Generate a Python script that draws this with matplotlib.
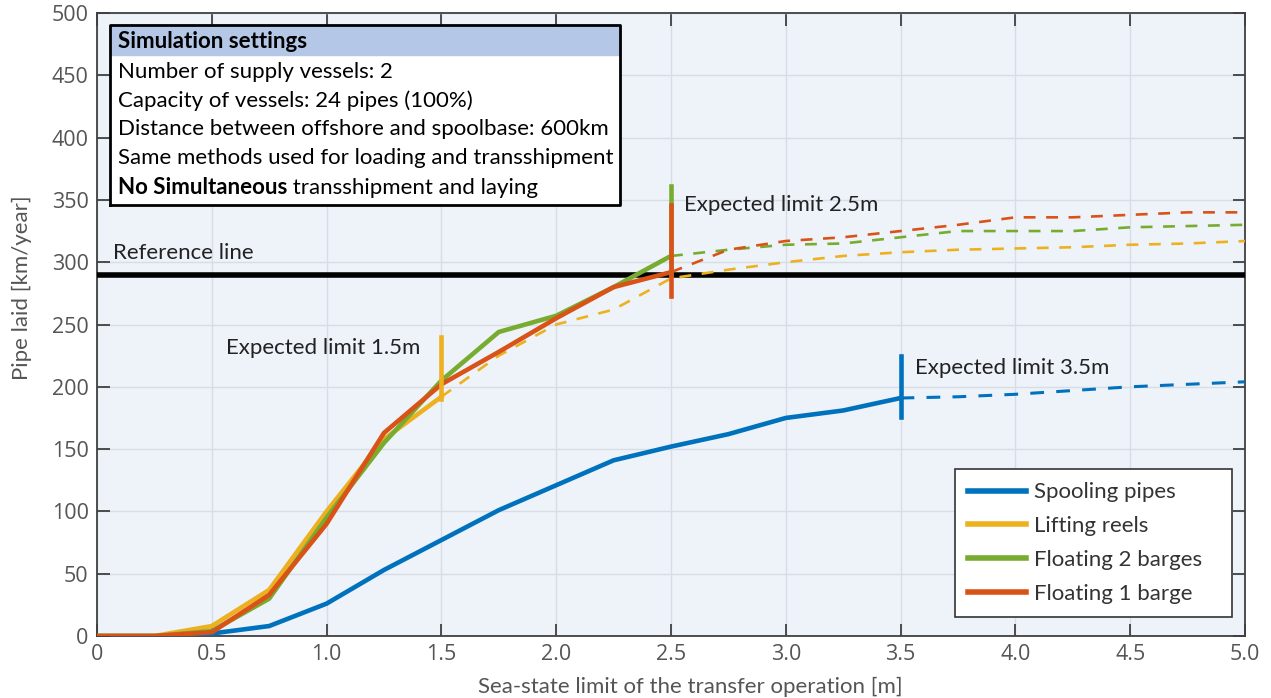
import matplotlib.pyplot as plt
import numpy as np

plt.rcParams['font.family'] = ['Lato', 'DejaVu Sans']

# sea-state limit [m]
x_solid = [0, 0.25, 0.5, 0.75, 1.0, 1.25, 1.5, 1.75, 2.0, 2.25, 2.5, 2.75, 3.0, 3.25, 3.5]
x_dash = [1.5, 1.75, 2.0, 2.25, 2.5, 2.75, 3.0, 3.25, 3.5, 3.75, 4.0, 4.25, 4.5, 4.75, 5.0]

# pipe laid [km/year]
spooling = [0, 0, 2, 8, 26, 53, 77, 101, 121, 141, 152, 162, 175, 181, 191]
spooling_dash = [191, 192, 194, 197, 200, 202, 204]
lifting = [0, 0, 8, 37, 100, 158, 192]
lifting_dash = [192, 225, 250, 262, 287, 294, 300, 305, 308, 310, 311, 312, 314, 315, 317]
float2 = [0, 0, 4, 30, 95, 155, 205, 244, 257, 280, 305]
float2_dash = [305, 310, 314, 315, 320, 325, 325, 325, 328, 329, 330]
float1 = [0, 0, 3, 33, 90, 163, 202, 228, 255, 280, 292]
float1_dash = [292, 310, 317, 320, 325, 330, 336, 336, 338, 340, 340]

reference = 290

blue = '#0072BD'
yellow = '#EDB120'
green = '#77AC30'
red = '#D95319'

fig = plt.figure(figsize=(12.71, 6.98), dpi=100)
ax = fig.add_axes([0.0763, 0.0888, 0.9032, 0.8926])
ax.set_facecolor('#eef3fa')

ax.plot(x_solid, spooling, color=blue, lw=3.3, label='Spooling pipes', zorder=5)
ax.plot(x_solid[:7], lifting, color=yellow, lw=3.3, label='Lifting reels', zorder=5)
ax.plot(x_solid[:11], float2, color=green, lw=3.3, label='Floating 2 barges', zorder=5)
ax.plot(x_solid[:11], float1, color=red, lw=3.3, label='Floating 1 barge', zorder=5)

dash = (0, (4.5, 4))
ax.plot(x_dash[8:], spooling_dash, color=blue, lw=2.2, ls=dash, zorder=4)
ax.plot(x_dash, lifting_dash, color=yellow, lw=1.9, ls=dash, zorder=4)
ax.plot(x_dash[4:], float2_dash, color=green, lw=1.9, ls=dash, zorder=4)
ax.plot(x_dash[4:], float1_dash, color=red, lw=1.9, ls=dash, zorder=4)

ax.axhline(reference, color='black', lw=4, zorder=3)
ax.text(0.07, 307, 'Reference line', fontsize=16, va='center', color='#222222')

# expected limit markers
ax.plot([1.5, 1.5], [190, 240], color=yellow, lw=3.3, zorder=6)
ax.plot([2.5, 2.5], [290, 361], color=green, lw=3.3, zorder=6)
ax.plot([2.5, 2.5], [273, 346], color=red, lw=3.3, zorder=6)
ax.plot([3.5, 3.5], [176, 225], color=blue, lw=3.3, zorder=6)

tfont = dict(fontsize=16, color='#222222')
ax.text(1.41, 231, 'Expected limit 1.5m', ha='right', va='center', **tfont)
ax.text(2.557, 346, 'Expected limit 2.5m', ha='left', va='center', **tfont)
ax.text(3.563, 215, 'Expected limit 3.5m', ha='left', va='center', **tfont)

# settings box
bfont = dict(fontsize=16, color='black')
bx0, bx1 = 0.057, 2.278
by_top, by_bot = 490, 346
ax.fill_between([bx0, bx1], by_bot, by_top, color='white', zorder=7)
ax.fill_between([bx0, bx1], 466, by_top, color='#b4c7e7', zorder=7)
ax.plot([bx0, bx1, bx1, bx0, bx0], [by_bot, by_bot, by_top, by_top, by_bot],
        color='black', lw=2, zorder=9)
lines = ['Number of supply vessels: 2',
         'Capacity of vessels: 24 pipes (100%)',
         'Distance between offshore and spoolbase: 600km',
         'Same methods used for loading and transshipment']
tx = 0.09
ax.text(tx, 477, 'Simulation settings', weight='bold', va='center', zorder=10, **bfont)
for i, t in enumerate(lines):
    ax.text(tx, 453 - i * 23.2, t, va='center', zorder=10, **bfont)
tb = ax.text(tx, 453 - 4 * 23.2, 'No Simultaneous', weight='bold', va='center', zorder=10, **bfont)
ax.annotate(' transshipment and laying', xycoords=tb, xy=(1, 0), va='bottom', zorder=10, **bfont)

ax.set_xlim(0, 5)
ax.set_ylim(0, 500)
ax.set_xticks(np.arange(0, 5.01, 0.5))
ax.set_xticklabels(['0', '0.5', '1.0', '1.5', '2.0', '2.5', '3.0', '3.5', '4.0', '4.5', '5.0'])
ax.set_yticks(np.arange(0, 501, 50))
ax.grid(True, color='#d8dde5', lw=1)
ax.set_axisbelow(True)
ax.tick_params(direction='in', top=True, right=True, length=9, width=1.3,
               colors='#404040', labelcolor='#555555', labelsize=15.5, pad=6)
for lbl in ax.get_xticklabels() + ax.get_yticklabels():
    lbl.set_family(['Open Sans', 'DejaVu Sans'])
for s in ax.spines.values():
    s.set_color('#404040')
    s.set_linewidth(1.3)

ax.set_xlabel('Sea-state limit of the transfer operation [m]', fontsize=16,
              color='#555555')
ax.xaxis.set_label_coords(0.5166, -0.065)
ax.set_ylabel('Pipe laid [km/year]', fontsize=16, color='#555555')
ax.yaxis.set_label_coords(-0.0566, 0.5586)

leg = ax.legend(loc='lower left', bbox_to_anchor=(0.7474, 0.0305, 0.2413, 0.2),
                mode='expand', borderaxespad=0,
                prop={'size': 16}, frameon=True, fancybox=False, edgecolor='#333333',
                handlelength=2.6, handletextpad=0.35, borderpad=0.6, labelspacing=0.62)
leg.get_frame().set_linewidth(1.2)
leg.get_frame().set_facecolor('white')
leg.get_frame().set_alpha(1)
for t in leg.get_texts():
    t.set_color('#333333')
for h in leg.get_lines():
    h.set_linewidth(4)

fig.savefig('out.png', dpi=100)
